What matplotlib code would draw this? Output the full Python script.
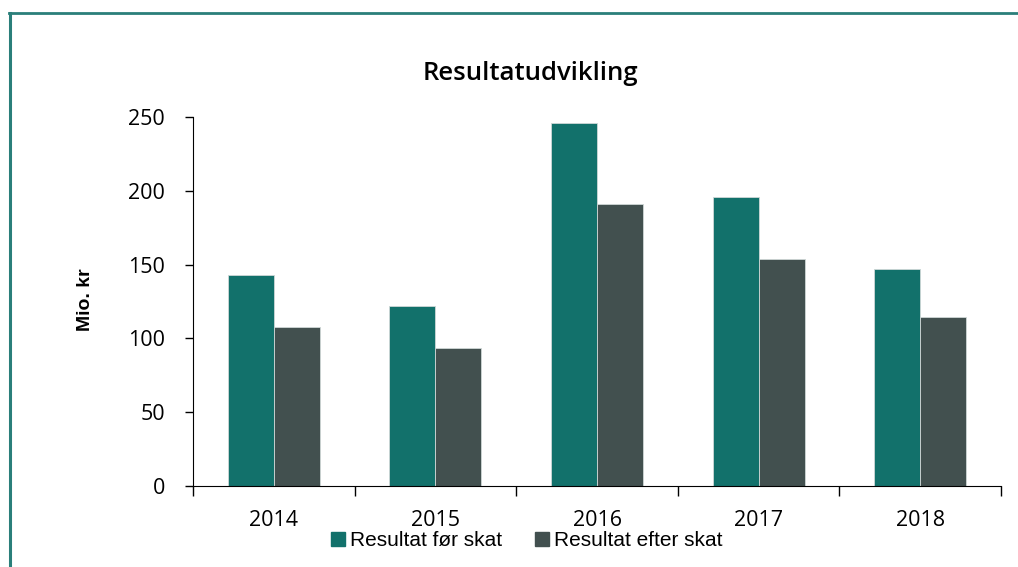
import matplotlib.pyplot as plt
import numpy as np
from matplotlib.lines import Line2D

years = ['2014', '2015', '2016', '2017', '2018']
foer_skat = [143, 122, 246, 196, 147]
efter_skat = [108, 93.5, 191, 154, 114.5]

teal = '#12716B'
dark = '#42504F'
frame_col = '#2A7F7A'

fig = plt.figure(figsize=(10.18, 5.67), dpi=100)
ax = fig.add_axes([0.1896, 0.1429, 0.7937, 0.6508])

x = np.arange(len(years))
w = 0.285
ax.bar(x - w / 2, foer_skat, w, color=teal, edgecolor='#cfd8d7', linewidth=0.6)
ax.bar(x + w / 2, efter_skat, w, color=dark, edgecolor='#cfd8d7', linewidth=0.6)

ax.set_xlim(-0.5, len(years) - 0.5)
ax.set_ylim(0, 250)
ax.set_yticks([0, 50, 100, 150, 200, 250])
ax.set_xticks(x)
ax.set_xticklabels(years)
ax.set_xticks(np.arange(-0.5, len(years)), minor=True)
ax.tick_params(axis='x', which='major', length=0, pad=17)
ax.tick_params(axis='x', which='minor', length=7, width=1)
ax.tick_params(axis='y', length=6, width=1, pad=14)
for lab in ax.get_xticklabels() + ax.get_yticklabels():
    lab.set_fontfamily('Open Sans')
    lab.set_fontsize(15.5)
for s in ['top', 'right']:
    ax.spines[s].set_visible(False)

fig.text(530 / 1018, 1 - 74 / 567, 'Resultatudvikling', ha='center', va='center',
         fontsize=18.5, fontfamily='Open Sans', fontweight='semibold')
fig.text(85 / 1018, 1 - 300 / 567, 'Mio. kr', rotation=90, ha='center', va='center',
         fontsize=14, fontweight='bold', fontfamily='Liberation Sans')

handles = [Line2D([], [], marker='s', linestyle='none', markersize=10, color=teal),
           Line2D([], [], marker='s', linestyle='none', markersize=10, color=dark)]
fig.legend(handles, ['Resultat før skat', 'Resultat efter skat'], loc='center',
           bbox_to_anchor=(527 / 1018, 1 - 541 / 567), ncol=2, frameon=False,
           prop={'family': 'Liberation Sans', 'size': 15}, handlelength=0.6,
           handletextpad=0.3, columnspacing=1.6, borderpad=0)

# teal frame along top and left edges
fig.add_artist(Line2D([9 / 1018, 1], [1 - 13 / 567] * 2, color=frame_col, lw=2))
fig.add_artist(Line2D([10 / 1018] * 2, [0, 1 - 13 / 567], color=frame_col, lw=2.2))

fig.savefig('out.png', dpi=100)
